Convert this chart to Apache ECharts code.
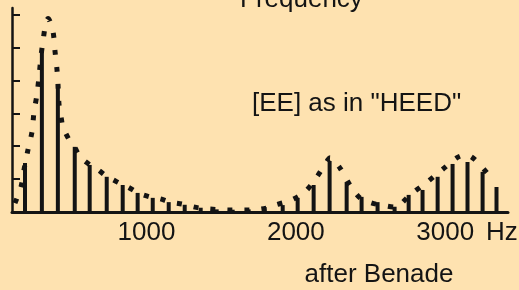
<!DOCTYPE html>
<html>
<head>
<meta charset="utf-8">
<script src="https://cdn.jsdelivr.net/npm/echarts@6/dist/echarts.min.js"></script>
<style>
html,body{margin:0;padding:0;background:#FEE2B0;}
#c{width:519px;height:290px;}
</style>
</head>
<body>
<div id="c"></div>
<script>
// Harmonic frequencies (Hz) and amplitudes (arbitrary units)
const harmonicFreqs = [187, 300, 407, 520, 620, 734, 841, 941, 1042, 1149, 1256, 1363, 1470, 1577, 1684, 1791, 1912, 2012, 2119, 2226, 2340, 2440, 2547, 2661, 2755, 2848, 2949, 3049, 3149, 3250, 3343];
const harmonicAmps  = [1.49, 4.88, 3.87, 1.98, 1.43, 1.07, 0.82, 0.58, 0.43, 0.30, 0.22, 0.13, 0.08, 0.07, 0.08, 0.15, 0.21, 0.43, 0.82, 1.55, 0.91, 0.46, 0.30, 0.16, 0.52, 0.67, 1.07, 1.46, 1.52, 1.22, 0.76];
// Envelope (dotted curve) points
const envFreqs = [120, 160, 180, 207, 234, 247, 267, 281, 294, 307, 328, 341, 374, 388, 401, 408, 415, 428, 441, 482, 522, 555, 622, 669, 736, 776, 843, 876, 943, 977, 1044, 1091, 1158, 1238, 1358, 1579, 1693, 1807, 1860, 1974, 2061, 2141, 2215, 2228, 2295, 2362, 2429, 2510, 2577, 2664, 2764, 2878, 2978, 3079, 3139, 3199, 3279];
const envAmps  = [0.27, 0.76, 1.28, 1.89, 2.44, 3.02, 3.57, 4.12, 4.73, 5.18, 5.79, 5.88, 5.49, 4.88, 4.33, 3.87, 3.26, 2.90, 2.59, 2.20, 1.95, 1.68, 1.43, 1.31, 1.07, 0.98, 0.82, 0.76, 0.58, 0.52, 0.43, 0.40, 0.30, 0.24, 0.12, 0.06, 0.06, 0.12, 0.21, 0.37, 0.61, 1.07, 1.59, 1.65, 1.34, 0.82, 0.43, 0.27, 0.21, 0.15, 0.52, 0.91, 1.28, 1.65, 1.74, 1.59, 1.19];
const xTickLabels = [1000, 2000, 3000];
const yTicks = [1, 2, 3, 4, 5, 6];
const titleText = 'Frequency';
const vowelText = '[EE] as in "HEED"';
const creditText = 'after Benade';
const unitText = 'Hz';

const FONT = "'Liberation Sans', Arial, Helvetica, sans-serif";
const FS = 26;
const INK = '#141414';

const chart = echarts.init(document.getElementById('c'), null, {renderer: 'canvas'});
chart.setOption({
  backgroundColor: '#FEE2B0',
  animation: false,
  grid: {left: 12, right: 11, top: 8, bottom: 78},
  xAxis: {
    type: 'value', min: 100, max: 3420,
    splitLine: {show: false},
    axisTick: {show: false},
    axisLine: {show: true, onZero: false, lineStyle: {color: INK, width: 3}},
    axisLabel: {
      customValues: xTickLabels,
      formatter: v => String(v),
      color: INK, fontFamily: FONT, fontSize: FS,
      verticalAlign: 'middle', margin: 21
    }
  },
  yAxis: {
    type: 'value', min: 0, max: 6.2,
    splitLine: {show: false},
    axisLine: {show: true, lineStyle: {color: INK, width: 2.5}},
    axisTick: {show: true, inside: true, length: 8, customValues: yTicks, lineStyle: {color: INK, width: 2}},
    axisLabel: {show: false}
  },
  series: [
    {
      type: 'bar',
      barWidth: 4,
      itemStyle: {color: INK},
      data: harmonicFreqs.map((f, i) => [f, harmonicAmps[i]]),
      z: 2
    },
    {
      type: 'line',
      showSymbol: false,
      smooth: 0.3,
      lineStyle: {color: INK, width: 5, type: [5, 12], cap: 'butt'},
      data: envFreqs.map((f, i) => [f, envAmps[i]]),
      z: 3
    }
  ],
  graphic: [
    {type: 'text', left: 240, top: -13, style: {text: titleText, font: FS + "px " + FONT, fill: INK}},
    {type: 'text', x: 252, y: 103.5, style: {text: vowelText, font: FS + "px " + FONT, fill: INK, verticalAlign: 'middle', align: 'left'}},
    {type: 'text', x: 379, y: 275, style: {text: creditText, font: FS + "px " + FONT, fill: INK, verticalAlign: 'middle', align: 'center'}},
    {type: 'text', x: 486, y: 233, style: {text: unitText, font: FS + "px " + FONT, fill: INK, verticalAlign: 'middle', align: 'left'}}
  ]
});
</script>
</body>
</html>
